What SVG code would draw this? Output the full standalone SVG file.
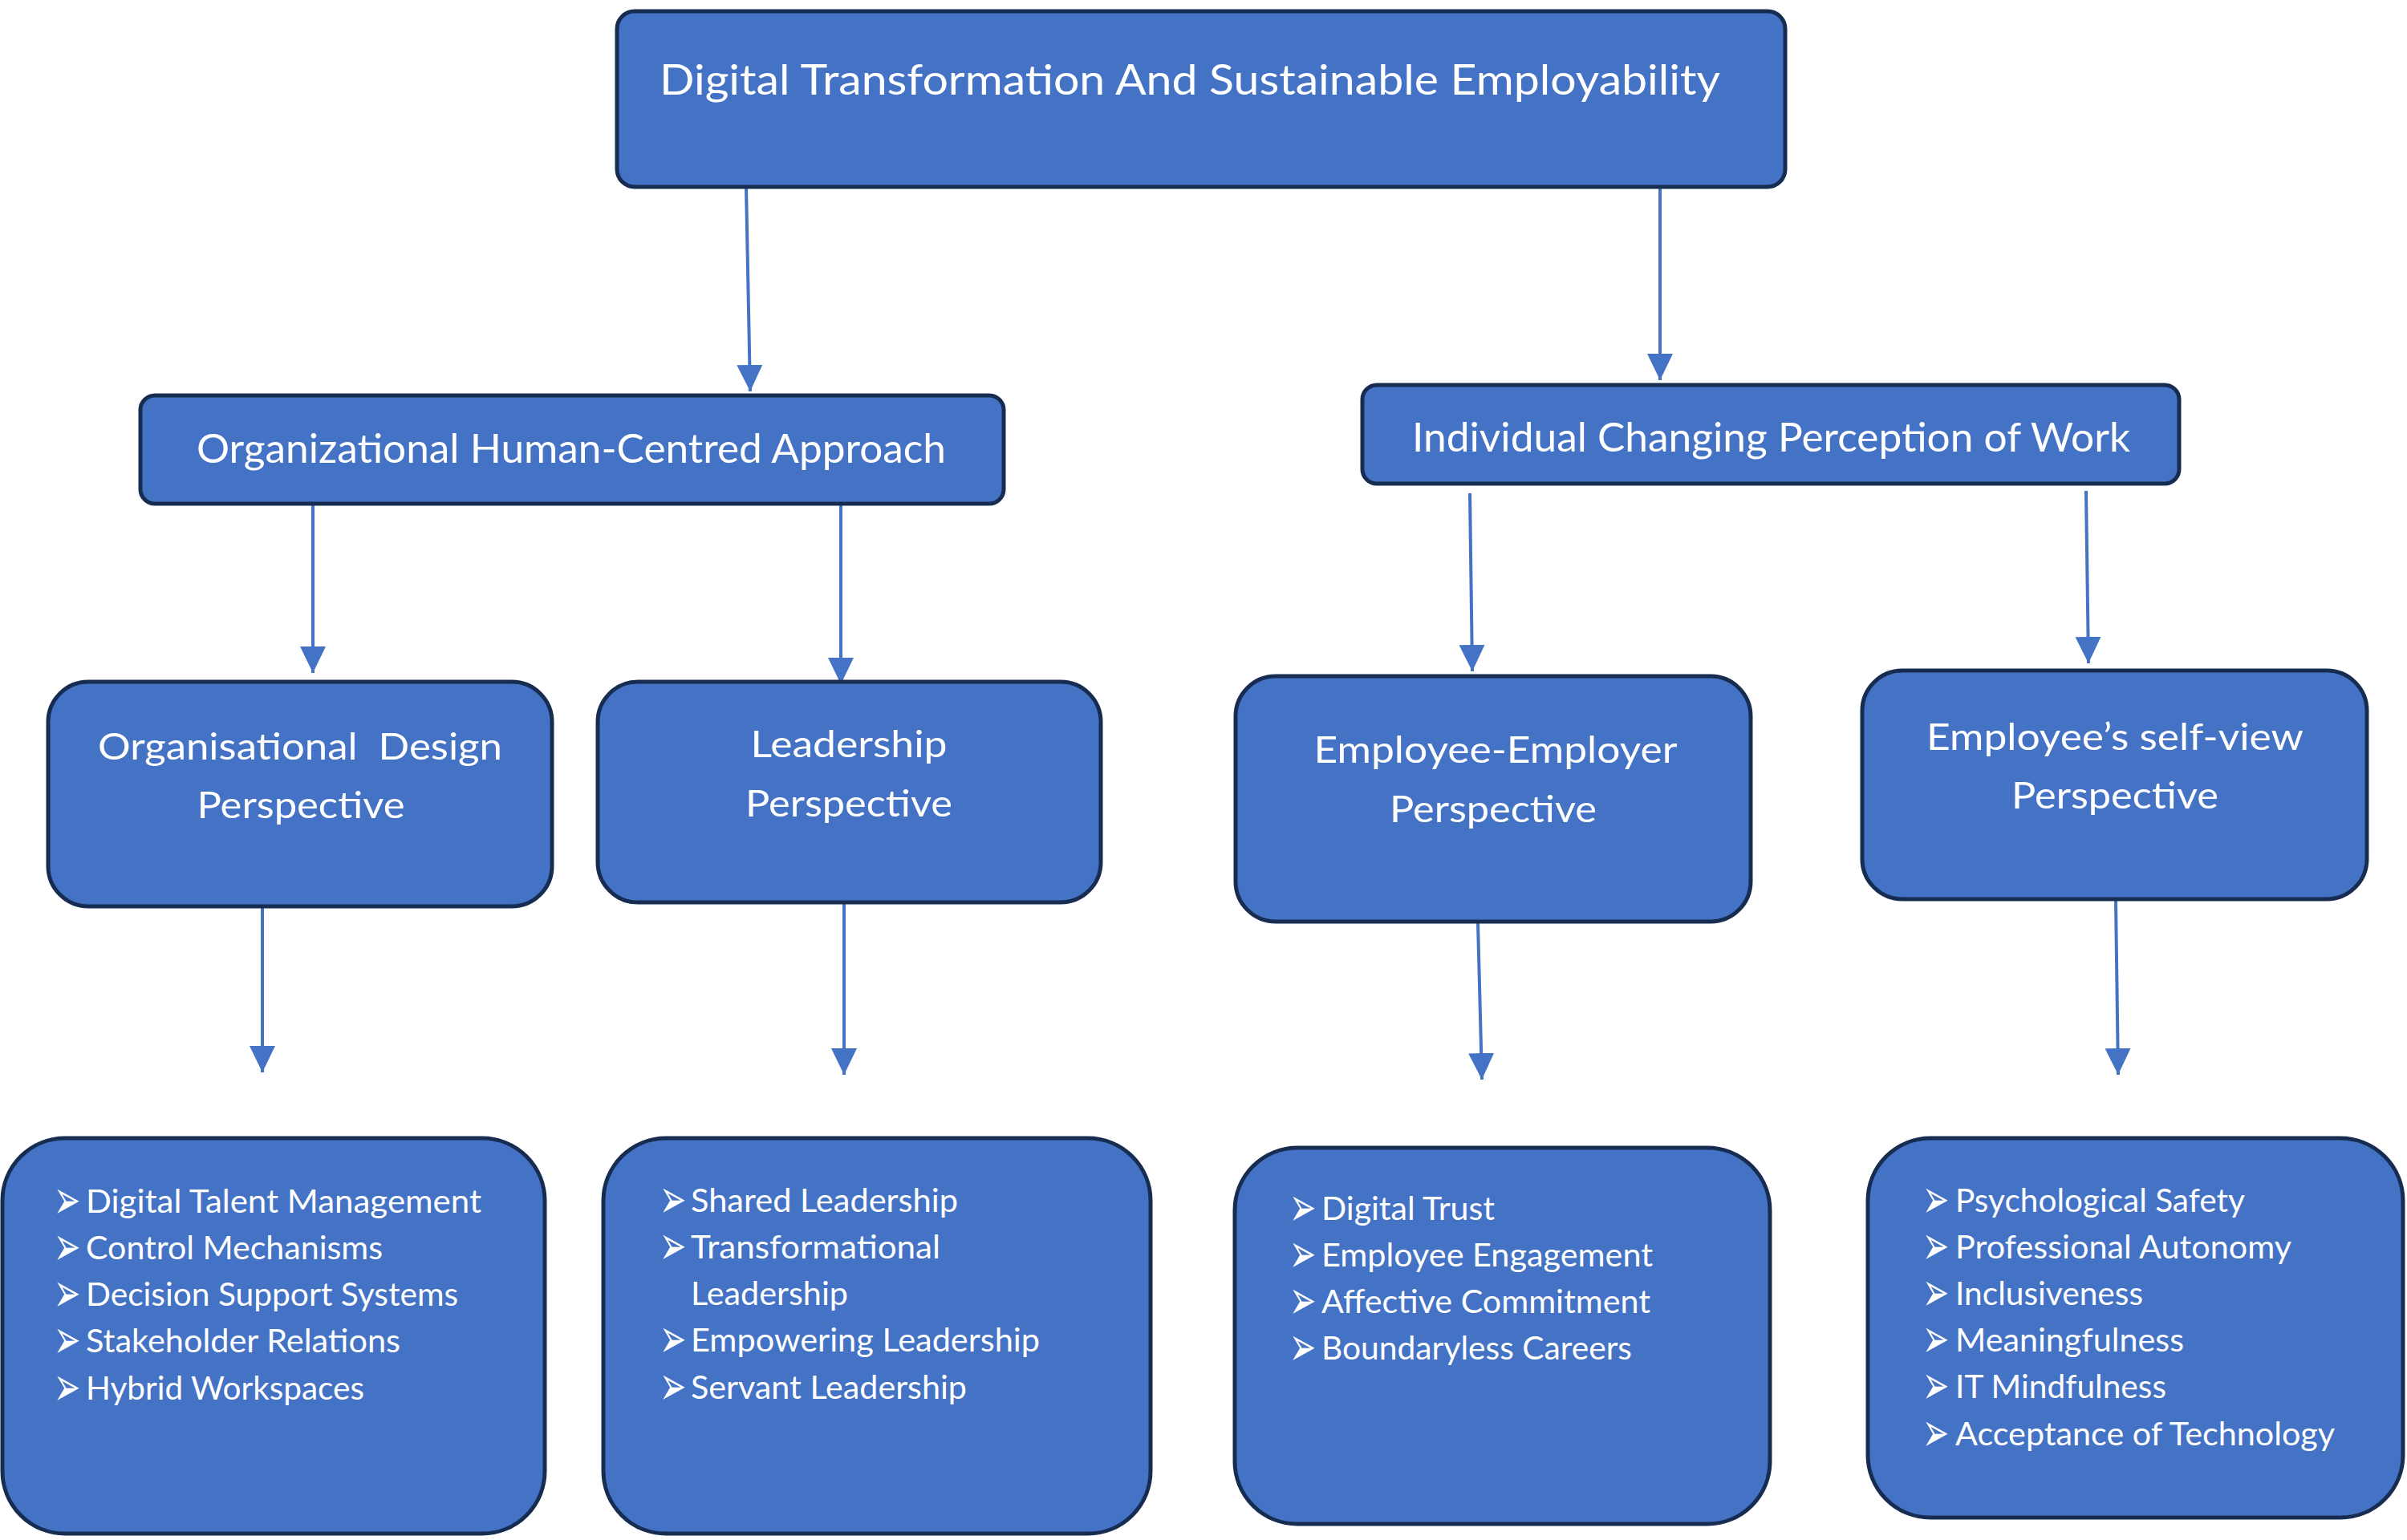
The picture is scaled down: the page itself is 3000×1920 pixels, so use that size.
<svg xmlns="http://www.w3.org/2000/svg" width="3000" height="1920" viewBox="0 0 3000 1920">
<style>
.box{fill:#4472C4;stroke:#172C51;stroke-width:5}
.t{font-family:Lato,"Liberation Sans",sans-serif;fill:#FFFFFF}
.title{font-size:53px}
.h2{font-size:50px}
.h3{font-size:46px;text-anchor:middle}
.li{font-size:40px}
.bu{font-family:"DejaVu Sans",sans-serif;font-size:40px;fill:#FFFFFF}
.conn{stroke:#4472C4;stroke-width:4;fill:none;marker-end:url(#ah)}
</style>
<defs>
<marker id="ah" markerUnits="userSpaceOnUse" markerWidth="34" markerHeight="34" refX="33" refY="16" orient="auto">
<path d="M0,0 L33,16 L0,32 Z" fill="#4472C4"/>
</marker>
</defs>
<rect width="3000" height="1920" fill="#FFFFFF"/>

<g id="connectors">
<line class="conn" x1="930" y1="233" x2="935" y2="488"/>
<line class="conn" x1="2069" y1="233" x2="2069" y2="474"/>
<line class="conn" x1="390" y1="629" x2="390" y2="839"/>
<line class="conn" x1="1048" y1="626" x2="1048" y2="853"/>
<line class="conn" x1="1832" y1="615" x2="1835" y2="837"/>
<line class="conn" x1="2600" y1="612" x2="2603" y2="827"/>
<line class="conn" x1="327" y1="1130" x2="327" y2="1337"/>
<line class="conn" x1="1052" y1="1125" x2="1052" y2="1340"/>
<line class="conn" x1="1842" y1="1150" x2="1847" y2="1346"/>
<line class="conn" x1="2637" y1="1122" x2="2640" y2="1340"/>
</g>

<g id="n-root">
<rect class="box" x="769" y="14" width="1456" height="219" rx="22"/>
<text class="t title" x="822" y="118" textLength="1322" lengthAdjust="spacingAndGlyphs">Digital Transformation And Sustainable Employability</text>
</g>

<g id="n-org">
<rect class="box" x="175" y="493" width="1076" height="135" rx="18"/>
<text class="t h2" x="245" y="577" textLength="934" lengthAdjust="spacingAndGlyphs">Organizational Human-Centred Approach</text>
</g>

<g id="n-ind">
<rect class="box" x="1698" y="480" width="1018" height="123" rx="18"/>
<text class="t h2" x="1760" y="563" textLength="895" lengthAdjust="spacingAndGlyphs">Individual Changing Perception of Work</text>
</g>

<g id="n-design">
<rect class="box" x="60" y="850" width="628" height="280" rx="50"/>
<text class="t h3" x="374" y="947" textLength="504" lengthAdjust="spacingAndGlyphs" xml:space="preserve">Organisational  Design</text>
<text class="t h3" x="375" y="1020" textLength="259" lengthAdjust="spacingAndGlyphs">Perspective</text>
</g>

<g id="n-leadership">
<rect class="box" x="745" y="850" width="627" height="275" rx="50"/>
<text class="t h3" x="1058" y="944" textLength="245" lengthAdjust="spacingAndGlyphs">Leadership</text>
<text class="t h3" x="1058" y="1018" textLength="258" lengthAdjust="spacingAndGlyphs">Perspective</text>
</g>

<g id="n-empemp">
<rect class="box" x="1540" y="843" width="642" height="306" rx="50"/>
<text class="t h3" x="1864" y="951" textLength="453" lengthAdjust="spacingAndGlyphs">Employee-Employer</text>
<text class="t h3" x="1861" y="1025" textLength="258" lengthAdjust="spacingAndGlyphs">Perspective</text>
</g>

<g id="n-selfview">
<rect class="box" x="2321" y="836" width="629" height="285" rx="50"/>
<text class="t h3" x="2636" y="935" textLength="470" lengthAdjust="spacingAndGlyphs">Employee’s self-view</text>
<text class="t h3" x="2636" y="1008" textLength="258" lengthAdjust="spacingAndGlyphs">Perspective</text>
</g>

<g id="n-list-design">
<rect class="box" x="3" y="1419" width="676" height="493" rx="78"/>
<text class="bu" transform="translate(67,1519) scale(1,1.7)">➢</text>
<text class="t li" x="107" y="1512" textLength="493" lengthAdjust="spacingAndGlyphs">Digital Talent Management</text>
<text class="bu" transform="translate(67,1577) scale(1,1.7)">➢</text>
<text class="t li" x="107" y="1570" textLength="370" lengthAdjust="spacingAndGlyphs">Control Mechanisms</text>
<text class="bu" transform="translate(67,1635) scale(1,1.7)">➢</text>
<text class="t li" x="107" y="1628" textLength="464" lengthAdjust="spacingAndGlyphs">Decision Support Systems</text>
<text class="bu" transform="translate(67,1693) scale(1,1.7)">➢</text>
<text class="t li" x="107" y="1686" textLength="392" lengthAdjust="spacingAndGlyphs">Stakeholder Relations</text>
<text class="bu" transform="translate(67,1752) scale(1,1.7)">➢</text>
<text class="t li" x="107" y="1745" textLength="347" lengthAdjust="spacingAndGlyphs">Hybrid Workspaces</text>
</g>

<g id="n-list-leadership">
<rect class="box" x="752" y="1419" width="682" height="493" rx="78"/>
<text class="bu" transform="translate(822,1518) scale(1,1.7)">➢</text>
<text class="t li" x="861" y="1511" textLength="333" lengthAdjust="spacingAndGlyphs">Shared Leadership</text>
<text class="bu" transform="translate(822,1576) scale(1,1.7)">➢</text>
<text class="t li" x="861" y="1569" textLength="311" lengthAdjust="spacingAndGlyphs">Transformational</text>
<text class="t li" x="861" y="1627" textLength="196" lengthAdjust="spacingAndGlyphs">Leadership</text>
<text class="bu" transform="translate(822,1692) scale(1,1.7)">➢</text>
<text class="t li" x="861" y="1685" textLength="435" lengthAdjust="spacingAndGlyphs">Empowering Leadership</text>
<text class="bu" transform="translate(822,1751) scale(1,1.7)">➢</text>
<text class="t li" x="861" y="1744" textLength="344" lengthAdjust="spacingAndGlyphs">Servant Leadership</text>
</g>

<g id="n-list-empemp">
<rect class="box" x="1539" y="1431" width="667" height="469" rx="78"/>
<text class="bu" transform="translate(1607,1528) scale(1,1.7)">➢</text>
<text class="t li" x="1647" y="1521" textLength="216" lengthAdjust="spacingAndGlyphs">Digital Trust</text>
<text class="bu" transform="translate(1607,1586) scale(1,1.7)">➢</text>
<text class="t li" x="1647" y="1579" textLength="413" lengthAdjust="spacingAndGlyphs">Employee Engagement</text>
<text class="bu" transform="translate(1607,1644) scale(1,1.7)">➢</text>
<text class="t li" x="1647" y="1637" textLength="410" lengthAdjust="spacingAndGlyphs">Affective Commitment</text>
<text class="bu" transform="translate(1607,1702) scale(1,1.7)">➢</text>
<text class="t li" x="1647" y="1695" textLength="387" lengthAdjust="spacingAndGlyphs">Boundaryless Careers</text>
</g>

<g id="n-list-selfview">
<rect class="box" x="2328" y="1419" width="667" height="473" rx="78"/>
<text class="bu" transform="translate(2396,1518) scale(1,1.7)">➢</text>
<text class="t li" x="2437" y="1511" textLength="361" lengthAdjust="spacingAndGlyphs">Psychological Safety</text>
<text class="bu" transform="translate(2396,1576) scale(1,1.7)">➢</text>
<text class="t li" x="2437" y="1569" textLength="419" lengthAdjust="spacingAndGlyphs">Professional Autonomy</text>
<text class="bu" transform="translate(2396,1634) scale(1,1.7)">➢</text>
<text class="t li" x="2437" y="1627" textLength="234" lengthAdjust="spacingAndGlyphs">Inclusiveness</text>
<text class="bu" transform="translate(2396,1692) scale(1,1.7)">➢</text>
<text class="t li" x="2437" y="1685" textLength="285" lengthAdjust="spacingAndGlyphs">Meaningfulness</text>
<text class="bu" transform="translate(2396,1750) scale(1,1.7)">➢</text>
<text class="t li" x="2437" y="1743" textLength="263" lengthAdjust="spacingAndGlyphs">IT Mindfulness</text>
<text class="bu" transform="translate(2396,1809) scale(1,1.7)">➢</text>
<text class="t li" x="2437" y="1802" textLength="473" lengthAdjust="spacingAndGlyphs">Acceptance of Technology</text>
</g>
</svg>
